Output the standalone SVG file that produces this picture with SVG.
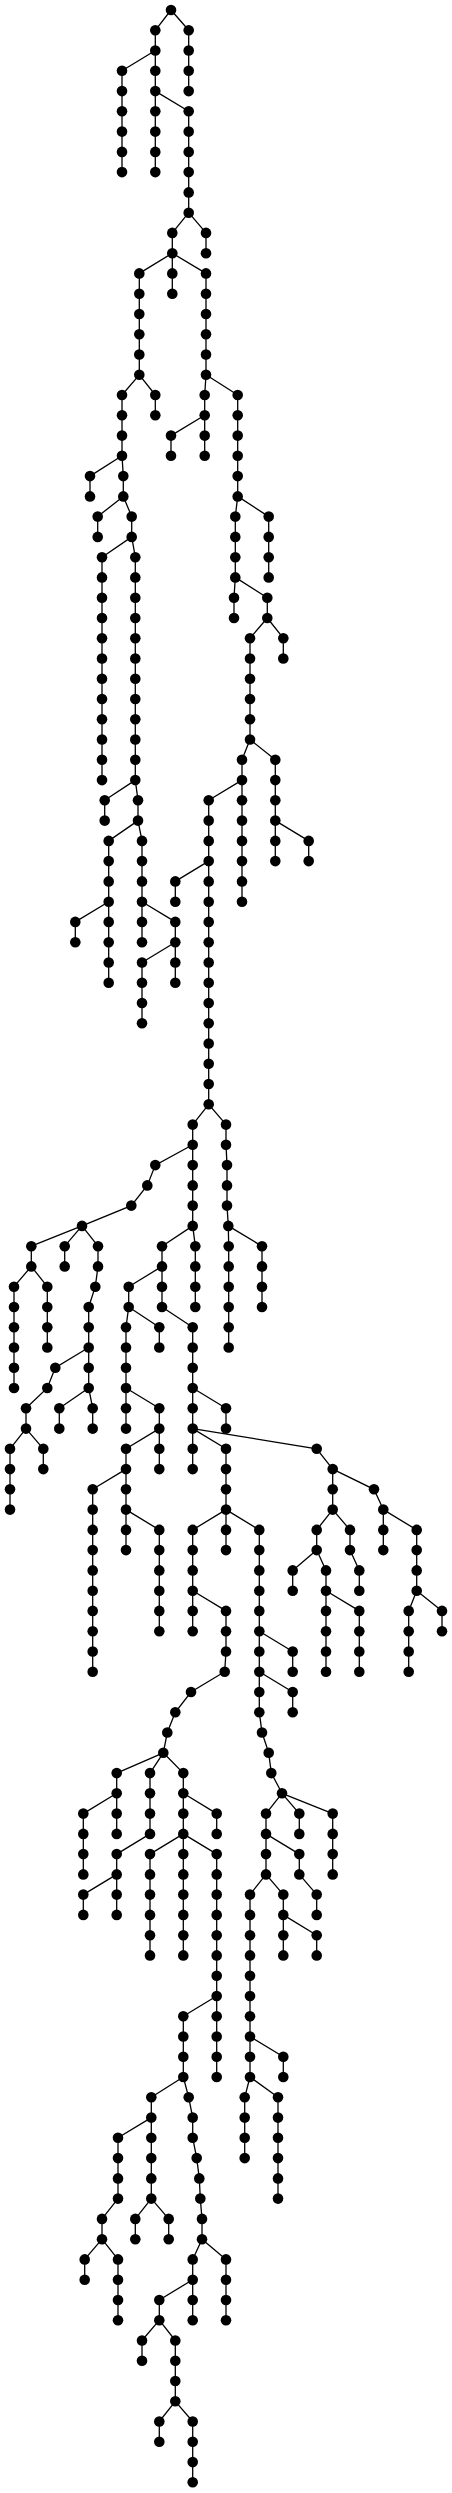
<svg xmlns="http://www.w3.org/2000/svg" width="452" height="2493" viewBox="0 0 452 2493">
<style>
.e{fill:none;stroke:#000;stroke-width:1.3}
circle{fill:#000}
</style>
<rect width="452" height="2493" fill="#fff"/>
<g id="connectors" class="e">
<path d="M155.3 30.3V172.1M188.7 30.3V91.1M122 70.8V172.1M188.7 111.3V212.7M172.3 232.9V293.7M206 232.9V253.2M139.3 273.4V374.8M206 273.4V374.8M122 395V455.8M155.3 395V415.3M204.7 395V455.8M237.7 395V496.4M171 435.6V455.8M90 476.1V496.4M123.3 476.1V496.4M97.7 516.6V536.9M131.7 516.6V536.9M235.3 516.6V577.4M268.7 516.6V577.4M102 557.2V780.1M135.3 557.2V780.1M234 597.7V618M267.3 597.7V618M250 638.2V739.5M283.3 638.2V658.5M242 759.8V901.7M275.3 759.8V861.1M104.7 800.3V820.6M138 800.3V820.6M208.7 800.3V1104.3M108.7 840.9V982.7M142 840.9V942.2M308.7 840.9V861.1M175.3 881.4V901.7M75.3 921.9V942.2M175.3 921.9V982.7M142 962.5V1023.3M192.7 1124.6V1225.9M226 1124.6V1144.8M227 1165.1V1205.6M31.3 1246.2V1266.4M64.7 1246.2V1266.4M98 1246.2V1266.4M162 1246.2V1307M195.3 1246.2V1307M228.7 1246.2V1347.5M262 1246.2V1307M14 1286.7V1388M47.3 1286.7V1347.5M128.7 1286.7V1307M88.7 1307V1388M126 1327.2V1428.6M159.3 1327.2V1347.5M192.7 1327.2V1469.1M26 1408.3V1428.6M59.3 1408.3V1428.6M92.7 1408.3V1428.6M159.3 1408.3V1469.1M226 1408.3V1428.6M10 1448.8V1509.6M43.3 1448.8V1469.1M126 1448.8V1550.1M226 1448.8V1550.1M332.7 1469.1V1509.6M92.7 1489.3V1671.7M383.3 1509.6V1550.1M159.3 1529.9V1631.2M192.7 1529.9V1631.2M259.3 1529.9V1712.3M316.7 1529.9V1550.1M350 1529.9V1550.1M416.7 1529.9V1590.7M292.7 1570.4V1590.7M326 1570.4V1671.7M359.3 1570.4V1590.7M226 1610.9V1651.5M359.3 1610.9V1671.7M408.7 1610.9V1671.7M442 1610.9V1631.2M292.7 1651.5V1671.7M292.7 1692V1712.3M116.7 1773.1V1833.9M150 1773.1V1833.9M183.3 1773.1V1955.4M83.3 1813.6V1874.4M216.7 1813.6V1833.9M266 1813.6V1874.4M299.3 1813.6V1833.9M332.7 1813.6V1874.4M116.7 1854.1V1914.9M150 1854.1V1955.4M216.7 1854.1V2077M299.3 1854.1V1874.4M83.3 1894.6V1914.9M250 1894.6V2077M283.3 1894.6V1955.4M316.7 1894.6V1914.9M316.7 1935.2V1955.4M183.3 2016.2V2077M283.3 2056.8V2077M151.3 2097.3V2198.6M244.7 2097.3V2158.1M278 2097.3V2198.6M192.7 2117.6V2137.8M118 2137.8V2198.6M102 2218.9V2239.2M135.3 2218.9V2239.2M168.7 2218.9V2239.2M202 2218.9V2239.2M84.7 2259.4V2279.7M118 2259.4V2320.2M192.7 2259.4V2320.2M226 2259.4V2320.2M159.3 2300V2320.2M142 2340.5V2360.7M175.3 2340.5V2401.3M159.3 2421.5V2441.8M192.7 2421.5V2482.3"/>
<path d="M171 10L155.3 30.3M171 10L188.7 30.3M155.3 50.5L122 70.8M155.3 91.1L188.7 111.3M188.7 212.7L172.3 232.9M188.7 212.7L206 232.9M172.3 253.2L139.3 273.4M172.3 253.2L206 273.4M139.3 374.8L122 395M139.3 374.8L155.3 395M206 374.8L204.7 395M206 374.8L237.7 395M204.7 415.3L171 435.6M122 455.8L90 476.1M122 455.8L123.3 476.1M123.3 496.4L97.7 516.6M123.3 496.4L131.7 516.6M237.7 496.4L235.3 516.6M237.7 496.4L268.7 516.6M131.7 536.9L102 557.2M131.7 536.9L135.3 557.2M235.3 577.4L234 597.7M235.3 577.4L267.3 597.7M267.3 618L250 638.2M267.3 618L283.3 638.2M250 739.5L242 759.8M250 739.5L275.3 759.8M135.3 780.1L104.7 800.3M135.3 780.1L138 800.3M242 780.1L208.7 800.3M138 820.6L108.7 840.9M138 820.6L142 840.9M275.3 820.6L308.7 840.9M208.7 861.1L175.3 881.4M108.7 901.7L75.3 921.9M142 901.7L175.3 921.9M175.3 942.2L142 962.5M208.7 1104.3L192.7 1124.6M208.7 1104.3L226 1124.6M192.7 1144.8L155.3 1165.1L147.3 1185.4L131.3 1205.6L82 1225.9M226 1144.8L227 1165.1M227 1205.6L228.3 1225.9L228.7 1246.2M228.3 1225.9L262 1246.2M82 1225.9L31.3 1246.2M82 1225.9L64.7 1246.2M82 1225.9L98 1246.2M192.7 1225.9L162 1246.2M192.7 1225.9L195.3 1246.2M31.3 1266.4L14 1286.7M31.3 1266.4L47.3 1286.7M98 1266.4L95.3 1286.7L88.7 1307M162 1266.4L128.7 1286.7M162 1307L192.7 1327.2M128.7 1307L126 1327.2M128.7 1307L159.3 1327.2M88.7 1347.5L55.3 1367.8L47.3 1388L26 1408.3M88.7 1388L59.3 1408.3M88.7 1388L92.7 1408.3M126 1388L159.3 1408.3M192.7 1388L226 1408.3M26 1428.6L10 1448.8M26 1428.6L43.3 1448.8M159.3 1428.6L126 1448.8M192.7 1428.6L226 1448.8M192.7 1428.6L316.7 1448.8L332.7 1469.1M126 1469.1L92.7 1489.3M332.7 1469.1L374 1489.3L383.3 1509.6M126 1509.6L159.3 1529.9M226 1509.6L192.7 1529.9M226 1509.6L259.3 1529.9M332.7 1509.6L316.7 1529.9M332.7 1509.6L350 1529.9M383.3 1509.6L416.7 1529.9M316.7 1550.1L292.7 1570.4M316.7 1550.1L326 1570.4M350 1550.1L359.3 1570.4M192.7 1590.7L226 1610.9M326 1590.7L359.3 1610.9M416.7 1590.7L408.7 1610.9M416.7 1590.7L442 1610.9M259.3 1631.2L292.7 1651.5M226 1651.5L224.7 1671.7L191 1692L175.3 1712.3L167.3 1732.5L163.3 1752.8M259.3 1671.7L292.7 1692M259.3 1712.3L262 1732.5L268.7 1752.8L271.3 1773.1L282 1793.3M163.3 1752.8L116.7 1773.1M163.3 1752.8L150 1773.1M163.3 1752.8L183.3 1773.1M282 1793.3L266 1813.6M282 1793.3L299.3 1813.6M282 1793.3L332.7 1813.6M116.7 1793.3L83.3 1813.6M183.3 1793.3L216.7 1813.6M150 1833.9L116.7 1854.1M183.3 1833.9L150 1854.1M183.3 1833.9L216.7 1854.1M266 1833.9L299.3 1854.1M116.7 1874.4L83.3 1894.6M266 1874.4L250 1894.6M266 1874.4L283.3 1894.6M299.3 1874.4L316.7 1894.6M283.3 1914.9L316.7 1935.2M216.7 1996L183.3 2016.2M250 2036.5L283.3 2056.8M183.3 2077L151.3 2097.3M183.3 2077L188.7 2097.3L192.7 2117.6M250 2077L244.7 2097.3M250 2077L278 2097.3M151.3 2117.6L118 2137.8M192.7 2137.8L196.7 2158.1L199.3 2178.4L200.3 2198.6L202 2218.9M118 2198.6L102 2218.9M151.3 2198.6L135.3 2218.9M151.3 2198.6L168.7 2218.9M102 2239.2L84.7 2259.4M102 2239.2L118 2259.4M202 2239.2L192.7 2259.4M202 2239.2L226 2259.4M192.7 2279.7L159.3 2300M159.3 2320.2L142 2340.5M159.3 2320.2L175.3 2340.5M175.3 2401.3L159.3 2421.5M175.3 2401.3L192.7 2421.5"/>
</g>
<g id="nodes">
<g id="n1_0"><circle cx="171" cy="10" r="5.3"/></g>
<g id="n2_1"><circle cx="155.3" cy="30.3" r="5.3"/></g>
<g id="n2_2"><circle cx="155.3" cy="50.5" r="5.3"/></g>
<g id="n2_3"><circle cx="155.3" cy="70.8" r="5.3"/></g>
<g id="n2_4"><circle cx="155.3" cy="91.1" r="5.3"/></g>
<g id="n2_5"><circle cx="155.3" cy="111.3" r="5.3"/></g>
<g id="n2_6"><circle cx="155.3" cy="131.6" r="5.3"/></g>
<g id="n2_7"><circle cx="155.3" cy="151.9" r="5.3"/></g>
<g id="n2_8"><circle cx="155.3" cy="172.1" r="5.3"/></g>
<g id="n3_1"><circle cx="188.7" cy="30.3" r="5.3"/></g>
<g id="n3_2"><circle cx="188.7" cy="50.5" r="5.3"/></g>
<g id="n3_3"><circle cx="188.7" cy="70.8" r="5.3"/></g>
<g id="n3_4"><circle cx="188.7" cy="91.1" r="5.3"/></g>
<g id="n4_3"><circle cx="122" cy="70.8" r="5.3"/></g>
<g id="n4_4"><circle cx="122" cy="91.1" r="5.3"/></g>
<g id="n4_5"><circle cx="122" cy="111.3" r="5.3"/></g>
<g id="n4_6"><circle cx="122" cy="131.6" r="5.3"/></g>
<g id="n4_7"><circle cx="122" cy="151.9" r="5.3"/></g>
<g id="n4_8"><circle cx="122" cy="172.1" r="5.3"/></g>
<g id="n5_5"><circle cx="188.7" cy="111.3" r="5.3"/></g>
<g id="n5_6"><circle cx="188.7" cy="131.6" r="5.3"/></g>
<g id="n5_7"><circle cx="188.7" cy="151.9" r="5.3"/></g>
<g id="n5_8"><circle cx="188.7" cy="172.1" r="5.3"/></g>
<g id="n5_9"><circle cx="188.7" cy="192.4" r="5.3"/></g>
<g id="n5_10"><circle cx="188.7" cy="212.7" r="5.3"/></g>
<g id="n6_11"><circle cx="172.3" cy="232.9" r="5.3"/></g>
<g id="n6_12"><circle cx="172.3" cy="253.2" r="5.3"/></g>
<g id="n6_13"><circle cx="172.3" cy="273.4" r="5.3"/></g>
<g id="n6_14"><circle cx="172.3" cy="293.7" r="5.3"/></g>
<g id="n7_11"><circle cx="206" cy="232.9" r="5.3"/></g>
<g id="n7_12"><circle cx="206" cy="253.2" r="5.3"/></g>
<g id="n8_13"><circle cx="139.3" cy="273.4" r="5.3"/></g>
<g id="n8_14"><circle cx="139.3" cy="293.7" r="5.3"/></g>
<g id="n8_15"><circle cx="139.3" cy="314" r="5.3"/></g>
<g id="n8_16"><circle cx="139.3" cy="334.2" r="5.3"/></g>
<g id="n8_17"><circle cx="139.3" cy="354.5" r="5.3"/></g>
<g id="n8_18"><circle cx="139.3" cy="374.8" r="5.3"/></g>
<g id="n9_13"><circle cx="206" cy="273.4" r="5.3"/></g>
<g id="n9_14"><circle cx="206" cy="293.7" r="5.3"/></g>
<g id="n9_15"><circle cx="206" cy="314" r="5.3"/></g>
<g id="n9_16"><circle cx="206" cy="334.2" r="5.3"/></g>
<g id="n9_17"><circle cx="206" cy="354.5" r="5.3"/></g>
<g id="n9_18"><circle cx="206" cy="374.8" r="5.3"/></g>
<g id="n10_19"><circle cx="122" cy="395" r="5.3"/></g>
<g id="n10_20"><circle cx="122" cy="415.3" r="5.3"/></g>
<g id="n10_21"><circle cx="122" cy="435.6" r="5.3"/></g>
<g id="n10_22"><circle cx="122" cy="455.8" r="5.3"/></g>
<g id="n11_19"><circle cx="155.3" cy="395" r="5.3"/></g>
<g id="n11_20"><circle cx="155.3" cy="415.3" r="5.3"/></g>
<g id="n12_19"><circle cx="204.7" cy="395" r="5.3"/></g>
<g id="n12_20"><circle cx="204.7" cy="415.3" r="5.3"/></g>
<g id="n12_21"><circle cx="204.7" cy="435.6" r="5.3"/></g>
<g id="n12_22"><circle cx="204.7" cy="455.8" r="5.3"/></g>
<g id="n13_19"><circle cx="237.7" cy="395" r="5.3"/></g>
<g id="n13_20"><circle cx="237.7" cy="415.3" r="5.3"/></g>
<g id="n13_21"><circle cx="237.7" cy="435.6" r="5.3"/></g>
<g id="n13_22"><circle cx="237.7" cy="455.8" r="5.3"/></g>
<g id="n13_23"><circle cx="237.7" cy="476.1" r="5.3"/></g>
<g id="n13_24"><circle cx="237.7" cy="496.4" r="5.3"/></g>
<g id="n14_21"><circle cx="171" cy="435.6" r="5.3"/></g>
<g id="n14_22"><circle cx="171" cy="455.8" r="5.3"/></g>
<g id="n15_23"><circle cx="90" cy="476.1" r="5.3"/></g>
<g id="n15_24"><circle cx="90" cy="496.4" r="5.3"/></g>
<g id="n16_23"><circle cx="123.3" cy="476.1" r="5.3"/></g>
<g id="n16_24"><circle cx="123.3" cy="496.4" r="5.3"/></g>
<g id="n17_25"><circle cx="97.7" cy="516.6" r="5.3"/></g>
<g id="n17_26"><circle cx="97.7" cy="536.9" r="5.3"/></g>
<g id="n18_25"><circle cx="131.7" cy="516.6" r="5.3"/></g>
<g id="n18_26"><circle cx="131.7" cy="536.9" r="5.3"/></g>
<g id="n19_25"><circle cx="235.3" cy="516.6" r="5.3"/></g>
<g id="n19_26"><circle cx="235.3" cy="536.9" r="5.3"/></g>
<g id="n19_27"><circle cx="235.3" cy="557.2" r="5.3"/></g>
<g id="n19_28"><circle cx="235.3" cy="577.4" r="5.3"/></g>
<g id="n20_25"><circle cx="268.7" cy="516.6" r="5.3"/></g>
<g id="n20_26"><circle cx="268.7" cy="536.9" r="5.3"/></g>
<g id="n20_27"><circle cx="268.7" cy="557.2" r="5.3"/></g>
<g id="n20_28"><circle cx="268.7" cy="577.4" r="5.3"/></g>
<g id="n21_27"><circle cx="102" cy="557.2" r="5.3"/></g>
<g id="n21_28"><circle cx="102" cy="577.4" r="5.3"/></g>
<g id="n21_29"><circle cx="102" cy="597.7" r="5.3"/></g>
<g id="n21_30"><circle cx="102" cy="618" r="5.3"/></g>
<g id="n21_31"><circle cx="102" cy="638.2" r="5.3"/></g>
<g id="n21_32"><circle cx="102" cy="658.5" r="5.3"/></g>
<g id="n21_33"><circle cx="102" cy="678.7" r="5.3"/></g>
<g id="n21_34"><circle cx="102" cy="699" r="5.3"/></g>
<g id="n21_35"><circle cx="102" cy="719.3" r="5.3"/></g>
<g id="n21_36"><circle cx="102" cy="739.5" r="5.3"/></g>
<g id="n21_37"><circle cx="102" cy="759.8" r="5.3"/></g>
<g id="n21_38"><circle cx="102" cy="780.1" r="5.3"/></g>
<g id="n22_27"><circle cx="135.3" cy="557.2" r="5.3"/></g>
<g id="n22_28"><circle cx="135.3" cy="577.4" r="5.3"/></g>
<g id="n22_29"><circle cx="135.3" cy="597.7" r="5.3"/></g>
<g id="n22_30"><circle cx="135.3" cy="618" r="5.3"/></g>
<g id="n22_31"><circle cx="135.3" cy="638.2" r="5.3"/></g>
<g id="n22_32"><circle cx="135.3" cy="658.5" r="5.3"/></g>
<g id="n22_33"><circle cx="135.3" cy="678.7" r="5.3"/></g>
<g id="n22_34"><circle cx="135.3" cy="699" r="5.3"/></g>
<g id="n22_35"><circle cx="135.3" cy="719.3" r="5.3"/></g>
<g id="n22_36"><circle cx="135.3" cy="739.5" r="5.3"/></g>
<g id="n22_37"><circle cx="135.3" cy="759.8" r="5.3"/></g>
<g id="n22_38"><circle cx="135.3" cy="780.1" r="5.3"/></g>
<g id="n23_29"><circle cx="234" cy="597.7" r="5.3"/></g>
<g id="n23_30"><circle cx="234" cy="618" r="5.3"/></g>
<g id="n24_29"><circle cx="267.3" cy="597.7" r="5.3"/></g>
<g id="n24_30"><circle cx="267.3" cy="618" r="5.3"/></g>
<g id="n25_31"><circle cx="250" cy="638.2" r="5.3"/></g>
<g id="n25_32"><circle cx="250" cy="658.5" r="5.3"/></g>
<g id="n25_33"><circle cx="250" cy="678.7" r="5.3"/></g>
<g id="n25_34"><circle cx="250" cy="699" r="5.3"/></g>
<g id="n25_35"><circle cx="250" cy="719.3" r="5.3"/></g>
<g id="n25_36"><circle cx="250" cy="739.5" r="5.3"/></g>
<g id="n26_31"><circle cx="283.3" cy="638.2" r="5.3"/></g>
<g id="n26_32"><circle cx="283.3" cy="658.5" r="5.3"/></g>
<g id="n27_37"><circle cx="242" cy="759.8" r="5.3"/></g>
<g id="n27_38"><circle cx="242" cy="780.1" r="5.3"/></g>
<g id="n27_39"><circle cx="242" cy="800.3" r="5.3"/></g>
<g id="n27_40"><circle cx="242" cy="820.6" r="5.3"/></g>
<g id="n27_41"><circle cx="242" cy="840.9" r="5.3"/></g>
<g id="n27_42"><circle cx="242" cy="861.1" r="5.3"/></g>
<g id="n27_43"><circle cx="242" cy="881.4" r="5.3"/></g>
<g id="n27_44"><circle cx="242" cy="901.7" r="5.3"/></g>
<g id="n28_37"><circle cx="275.3" cy="759.8" r="5.3"/></g>
<g id="n28_38"><circle cx="275.3" cy="780.1" r="5.3"/></g>
<g id="n28_39"><circle cx="275.3" cy="800.3" r="5.3"/></g>
<g id="n28_40"><circle cx="275.3" cy="820.6" r="5.3"/></g>
<g id="n28_41"><circle cx="275.3" cy="840.9" r="5.3"/></g>
<g id="n28_42"><circle cx="275.3" cy="861.1" r="5.3"/></g>
<g id="n29_39"><circle cx="104.7" cy="800.3" r="5.3"/></g>
<g id="n29_40"><circle cx="104.7" cy="820.6" r="5.3"/></g>
<g id="n30_39"><circle cx="138" cy="800.3" r="5.3"/></g>
<g id="n30_40"><circle cx="138" cy="820.6" r="5.3"/></g>
<g id="n31_39"><circle cx="208.7" cy="800.3" r="5.3"/></g>
<g id="n31_40"><circle cx="208.7" cy="820.6" r="5.3"/></g>
<g id="n31_41"><circle cx="208.7" cy="840.9" r="5.3"/></g>
<g id="n31_42"><circle cx="208.7" cy="861.1" r="5.3"/></g>
<g id="n31_43"><circle cx="208.7" cy="881.4" r="5.3"/></g>
<g id="n31_44"><circle cx="208.7" cy="901.7" r="5.3"/></g>
<g id="n31_45"><circle cx="208.7" cy="921.9" r="5.3"/></g>
<g id="n31_46"><circle cx="208.7" cy="942.2" r="5.3"/></g>
<g id="n31_47"><circle cx="208.7" cy="962.5" r="5.3"/></g>
<g id="n31_48"><circle cx="208.7" cy="982.7" r="5.3"/></g>
<g id="n31_49"><circle cx="208.7" cy="1003" r="5.3"/></g>
<g id="n31_50"><circle cx="208.7" cy="1023.3" r="5.3"/></g>
<g id="n31_51"><circle cx="208.7" cy="1043.5" r="5.3"/></g>
<g id="n31_52"><circle cx="208.7" cy="1063.8" r="5.3"/></g>
<g id="n31_53"><circle cx="208.7" cy="1084" r="5.3"/></g>
<g id="n31_54"><circle cx="208.7" cy="1104.3" r="5.3"/></g>
<g id="n32_41"><circle cx="108.7" cy="840.9" r="5.3"/></g>
<g id="n32_42"><circle cx="108.7" cy="861.1" r="5.3"/></g>
<g id="n32_43"><circle cx="108.7" cy="881.4" r="5.3"/></g>
<g id="n32_44"><circle cx="108.7" cy="901.7" r="5.3"/></g>
<g id="n32_45"><circle cx="108.7" cy="921.9" r="5.3"/></g>
<g id="n32_46"><circle cx="108.7" cy="942.2" r="5.3"/></g>
<g id="n32_47"><circle cx="108.7" cy="962.5" r="5.3"/></g>
<g id="n32_48"><circle cx="108.7" cy="982.7" r="5.3"/></g>
<g id="n33_41"><circle cx="142" cy="840.9" r="5.3"/></g>
<g id="n33_42"><circle cx="142" cy="861.1" r="5.3"/></g>
<g id="n33_43"><circle cx="142" cy="881.4" r="5.3"/></g>
<g id="n33_44"><circle cx="142" cy="901.7" r="5.3"/></g>
<g id="n33_45"><circle cx="142" cy="921.9" r="5.3"/></g>
<g id="n33_46"><circle cx="142" cy="942.2" r="5.3"/></g>
<g id="n34_41"><circle cx="308.7" cy="840.9" r="5.3"/></g>
<g id="n34_42"><circle cx="308.7" cy="861.1" r="5.3"/></g>
<g id="n35_43"><circle cx="175.3" cy="881.4" r="5.3"/></g>
<g id="n35_44"><circle cx="175.3" cy="901.7" r="5.3"/></g>
<g id="n36_45"><circle cx="75.3" cy="921.9" r="5.3"/></g>
<g id="n36_46"><circle cx="75.3" cy="942.2" r="5.3"/></g>
<g id="n37_45"><circle cx="175.3" cy="921.9" r="5.3"/></g>
<g id="n37_46"><circle cx="175.3" cy="942.2" r="5.3"/></g>
<g id="n37_47"><circle cx="175.3" cy="962.5" r="5.3"/></g>
<g id="n37_48"><circle cx="175.3" cy="982.7" r="5.3"/></g>
<g id="n38_47"><circle cx="142" cy="962.5" r="5.3"/></g>
<g id="n38_48"><circle cx="142" cy="982.7" r="5.3"/></g>
<g id="n38_49"><circle cx="142" cy="1003" r="5.3"/></g>
<g id="n38_50"><circle cx="142" cy="1023.3" r="5.3"/></g>
<g id="n39_55"><circle cx="192.7" cy="1124.6" r="5.3"/></g>
<g id="n39_56"><circle cx="192.7" cy="1144.8" r="5.3"/></g>
<g id="n39_57"><circle cx="192.7" cy="1165.1" r="5.3"/></g>
<g id="n39_58"><circle cx="192.7" cy="1185.4" r="5.3"/></g>
<g id="n39_59"><circle cx="192.7" cy="1205.6" r="5.3"/></g>
<g id="n39_60"><circle cx="192.7" cy="1225.9" r="5.3"/></g>
<g id="n40_55"><circle cx="226" cy="1124.6" r="5.3"/></g>
<g id="n40_56"><circle cx="226" cy="1144.8" r="5.3"/></g>
<g id="n41_57"><circle cx="227" cy="1165.1" r="5.3"/></g>
<g id="n41_58"><circle cx="227" cy="1185.4" r="5.3"/></g>
<g id="n41_59"><circle cx="227" cy="1205.6" r="5.3"/></g>
<g id="n42_57"><circle cx="155.3" cy="1165.1" r="5.3"/></g>
<g id="n43_58"><circle cx="147.3" cy="1185.4" r="5.3"/></g>
<g id="n44_59"><circle cx="131.3" cy="1205.6" r="5.3"/></g>
<g id="n45_60"><circle cx="82" cy="1225.9" r="5.3"/></g>
<g id="n46_60"><circle cx="228.3" cy="1225.9" r="5.3"/></g>
<g id="n47_61"><circle cx="31.3" cy="1246.2" r="5.3"/></g>
<g id="n47_62"><circle cx="31.3" cy="1266.4" r="5.3"/></g>
<g id="n48_61"><circle cx="64.7" cy="1246.2" r="5.3"/></g>
<g id="n48_62"><circle cx="64.7" cy="1266.4" r="5.3"/></g>
<g id="n49_61"><circle cx="98" cy="1246.2" r="5.3"/></g>
<g id="n49_62"><circle cx="98" cy="1266.4" r="5.3"/></g>
<g id="n50_61"><circle cx="162" cy="1246.2" r="5.3"/></g>
<g id="n50_62"><circle cx="162" cy="1266.4" r="5.3"/></g>
<g id="n50_63"><circle cx="162" cy="1286.7" r="5.3"/></g>
<g id="n50_64"><circle cx="162" cy="1307" r="5.3"/></g>
<g id="n51_61"><circle cx="195.3" cy="1246.2" r="5.3"/></g>
<g id="n51_62"><circle cx="195.3" cy="1266.4" r="5.3"/></g>
<g id="n51_63"><circle cx="195.3" cy="1286.7" r="5.3"/></g>
<g id="n51_64"><circle cx="195.3" cy="1307" r="5.3"/></g>
<g id="n52_61"><circle cx="228.7" cy="1246.2" r="5.3"/></g>
<g id="n52_62"><circle cx="228.7" cy="1266.4" r="5.3"/></g>
<g id="n52_63"><circle cx="228.7" cy="1286.7" r="5.3"/></g>
<g id="n52_64"><circle cx="228.7" cy="1307" r="5.3"/></g>
<g id="n52_65"><circle cx="228.7" cy="1327.2" r="5.3"/></g>
<g id="n52_66"><circle cx="228.7" cy="1347.5" r="5.3"/></g>
<g id="n53_61"><circle cx="262" cy="1246.2" r="5.3"/></g>
<g id="n53_62"><circle cx="262" cy="1266.4" r="5.3"/></g>
<g id="n53_63"><circle cx="262" cy="1286.7" r="5.3"/></g>
<g id="n53_64"><circle cx="262" cy="1307" r="5.3"/></g>
<g id="n54_63"><circle cx="14" cy="1286.7" r="5.3"/></g>
<g id="n54_64"><circle cx="14" cy="1307" r="5.3"/></g>
<g id="n54_65"><circle cx="14" cy="1327.2" r="5.3"/></g>
<g id="n54_66"><circle cx="14" cy="1347.5" r="5.3"/></g>
<g id="n54_67"><circle cx="14" cy="1367.8" r="5.3"/></g>
<g id="n54_68"><circle cx="14" cy="1388" r="5.3"/></g>
<g id="n55_63"><circle cx="47.3" cy="1286.7" r="5.3"/></g>
<g id="n55_64"><circle cx="47.3" cy="1307" r="5.3"/></g>
<g id="n55_65"><circle cx="47.3" cy="1327.2" r="5.3"/></g>
<g id="n55_66"><circle cx="47.3" cy="1347.5" r="5.3"/></g>
<g id="n56_63"><circle cx="95.3" cy="1286.7" r="5.3"/></g>
<g id="n57_63"><circle cx="128.7" cy="1286.7" r="5.3"/></g>
<g id="n57_64"><circle cx="128.7" cy="1307" r="5.3"/></g>
<g id="n58_64"><circle cx="88.7" cy="1307" r="5.3"/></g>
<g id="n58_65"><circle cx="88.7" cy="1327.2" r="5.3"/></g>
<g id="n58_66"><circle cx="88.7" cy="1347.5" r="5.3"/></g>
<g id="n58_67"><circle cx="88.7" cy="1367.8" r="5.3"/></g>
<g id="n58_68"><circle cx="88.7" cy="1388" r="5.3"/></g>
<g id="n59_65"><circle cx="126" cy="1327.2" r="5.3"/></g>
<g id="n59_66"><circle cx="126" cy="1347.5" r="5.3"/></g>
<g id="n59_67"><circle cx="126" cy="1367.8" r="5.3"/></g>
<g id="n59_68"><circle cx="126" cy="1388" r="5.3"/></g>
<g id="n59_69"><circle cx="126" cy="1408.3" r="5.3"/></g>
<g id="n59_70"><circle cx="126" cy="1428.6" r="5.3"/></g>
<g id="n60_65"><circle cx="159.3" cy="1327.2" r="5.3"/></g>
<g id="n60_66"><circle cx="159.3" cy="1347.5" r="5.3"/></g>
<g id="n61_65"><circle cx="192.7" cy="1327.2" r="5.3"/></g>
<g id="n61_66"><circle cx="192.7" cy="1347.5" r="5.3"/></g>
<g id="n61_67"><circle cx="192.7" cy="1367.8" r="5.3"/></g>
<g id="n61_68"><circle cx="192.7" cy="1388" r="5.3"/></g>
<g id="n61_69"><circle cx="192.7" cy="1408.3" r="5.3"/></g>
<g id="n61_70"><circle cx="192.7" cy="1428.6" r="5.3"/></g>
<g id="n61_71"><circle cx="192.7" cy="1448.8" r="5.3"/></g>
<g id="n61_72"><circle cx="192.7" cy="1469.1" r="5.3"/></g>
<g id="n62_67"><circle cx="55.3" cy="1367.8" r="5.3"/></g>
<g id="n63_68"><circle cx="47.3" cy="1388" r="5.3"/></g>
<g id="n64_69"><circle cx="26" cy="1408.3" r="5.3"/></g>
<g id="n64_70"><circle cx="26" cy="1428.6" r="5.3"/></g>
<g id="n65_69"><circle cx="59.3" cy="1408.3" r="5.3"/></g>
<g id="n65_70"><circle cx="59.3" cy="1428.6" r="5.3"/></g>
<g id="n66_69"><circle cx="92.7" cy="1408.3" r="5.3"/></g>
<g id="n66_70"><circle cx="92.7" cy="1428.6" r="5.3"/></g>
<g id="n67_69"><circle cx="159.3" cy="1408.3" r="5.3"/></g>
<g id="n67_70"><circle cx="159.3" cy="1428.6" r="5.3"/></g>
<g id="n67_71"><circle cx="159.3" cy="1448.8" r="5.3"/></g>
<g id="n67_72"><circle cx="159.3" cy="1469.1" r="5.3"/></g>
<g id="n68_69"><circle cx="226" cy="1408.3" r="5.3"/></g>
<g id="n68_70"><circle cx="226" cy="1428.6" r="5.3"/></g>
<g id="n69_71"><circle cx="10" cy="1448.8" r="5.3"/></g>
<g id="n69_72"><circle cx="10" cy="1469.1" r="5.3"/></g>
<g id="n69_73"><circle cx="10" cy="1489.3" r="5.3"/></g>
<g id="n69_74"><circle cx="10" cy="1509.6" r="5.3"/></g>
<g id="n70_71"><circle cx="43.3" cy="1448.8" r="5.3"/></g>
<g id="n70_72"><circle cx="43.3" cy="1469.1" r="5.3"/></g>
<g id="n71_71"><circle cx="126" cy="1448.8" r="5.3"/></g>
<g id="n71_72"><circle cx="126" cy="1469.1" r="5.3"/></g>
<g id="n71_73"><circle cx="126" cy="1489.3" r="5.3"/></g>
<g id="n71_74"><circle cx="126" cy="1509.6" r="5.3"/></g>
<g id="n71_75"><circle cx="126" cy="1529.9" r="5.3"/></g>
<g id="n71_76"><circle cx="126" cy="1550.1" r="5.3"/></g>
<g id="n72_71"><circle cx="226" cy="1448.8" r="5.3"/></g>
<g id="n72_72"><circle cx="226" cy="1469.1" r="5.3"/></g>
<g id="n72_73"><circle cx="226" cy="1489.3" r="5.3"/></g>
<g id="n72_74"><circle cx="226" cy="1509.6" r="5.3"/></g>
<g id="n72_75"><circle cx="226" cy="1529.9" r="5.3"/></g>
<g id="n72_76"><circle cx="226" cy="1550.1" r="5.3"/></g>
<g id="n73_71"><circle cx="316.7" cy="1448.8" r="5.3"/></g>
<g id="n74_72"><circle cx="332.7" cy="1469.1" r="5.3"/></g>
<g id="n74_73"><circle cx="332.7" cy="1489.3" r="5.3"/></g>
<g id="n74_74"><circle cx="332.7" cy="1509.6" r="5.3"/></g>
<g id="n75_73"><circle cx="92.7" cy="1489.3" r="5.3"/></g>
<g id="n75_74"><circle cx="92.7" cy="1509.6" r="5.3"/></g>
<g id="n75_75"><circle cx="92.7" cy="1529.9" r="5.3"/></g>
<g id="n75_76"><circle cx="92.7" cy="1550.1" r="5.3"/></g>
<g id="n75_77"><circle cx="92.7" cy="1570.4" r="5.3"/></g>
<g id="n75_78"><circle cx="92.7" cy="1590.7" r="5.3"/></g>
<g id="n75_79"><circle cx="92.7" cy="1610.9" r="5.3"/></g>
<g id="n75_80"><circle cx="92.7" cy="1631.2" r="5.3"/></g>
<g id="n75_81"><circle cx="92.7" cy="1651.5" r="5.3"/></g>
<g id="n75_82"><circle cx="92.7" cy="1671.7" r="5.3"/></g>
<g id="n76_73"><circle cx="374" cy="1489.3" r="5.3"/></g>
<g id="n77_74"><circle cx="383.3" cy="1509.6" r="5.3"/></g>
<g id="n77_75"><circle cx="383.3" cy="1529.9" r="5.3"/></g>
<g id="n77_76"><circle cx="383.3" cy="1550.1" r="5.3"/></g>
<g id="n78_75"><circle cx="159.3" cy="1529.9" r="5.3"/></g>
<g id="n78_76"><circle cx="159.3" cy="1550.1" r="5.3"/></g>
<g id="n78_77"><circle cx="159.3" cy="1570.4" r="5.3"/></g>
<g id="n78_78"><circle cx="159.3" cy="1590.7" r="5.3"/></g>
<g id="n78_79"><circle cx="159.3" cy="1610.9" r="5.3"/></g>
<g id="n78_80"><circle cx="159.3" cy="1631.2" r="5.3"/></g>
<g id="n79_75"><circle cx="192.7" cy="1529.9" r="5.3"/></g>
<g id="n79_76"><circle cx="192.7" cy="1550.1" r="5.3"/></g>
<g id="n79_77"><circle cx="192.7" cy="1570.4" r="5.3"/></g>
<g id="n79_78"><circle cx="192.7" cy="1590.7" r="5.3"/></g>
<g id="n79_79"><circle cx="192.7" cy="1610.9" r="5.3"/></g>
<g id="n79_80"><circle cx="192.7" cy="1631.2" r="5.3"/></g>
<g id="n80_75"><circle cx="259.3" cy="1529.9" r="5.3"/></g>
<g id="n80_76"><circle cx="259.3" cy="1550.1" r="5.3"/></g>
<g id="n80_77"><circle cx="259.3" cy="1570.4" r="5.3"/></g>
<g id="n80_78"><circle cx="259.3" cy="1590.7" r="5.3"/></g>
<g id="n80_79"><circle cx="259.3" cy="1610.9" r="5.3"/></g>
<g id="n80_80"><circle cx="259.3" cy="1631.2" r="5.3"/></g>
<g id="n80_81"><circle cx="259.3" cy="1651.5" r="5.3"/></g>
<g id="n80_82"><circle cx="259.3" cy="1671.7" r="5.3"/></g>
<g id="n80_83"><circle cx="259.3" cy="1692" r="5.3"/></g>
<g id="n80_84"><circle cx="259.3" cy="1712.3" r="5.3"/></g>
<g id="n81_75"><circle cx="316.7" cy="1529.9" r="5.3"/></g>
<g id="n81_76"><circle cx="316.7" cy="1550.1" r="5.3"/></g>
<g id="n82_75"><circle cx="350" cy="1529.9" r="5.3"/></g>
<g id="n82_76"><circle cx="350" cy="1550.1" r="5.3"/></g>
<g id="n83_75"><circle cx="416.7" cy="1529.9" r="5.3"/></g>
<g id="n83_76"><circle cx="416.7" cy="1550.1" r="5.3"/></g>
<g id="n83_77"><circle cx="416.7" cy="1570.4" r="5.3"/></g>
<g id="n83_78"><circle cx="416.7" cy="1590.7" r="5.3"/></g>
<g id="n84_77"><circle cx="292.7" cy="1570.4" r="5.3"/></g>
<g id="n84_78"><circle cx="292.7" cy="1590.7" r="5.3"/></g>
<g id="n85_77"><circle cx="326" cy="1570.4" r="5.3"/></g>
<g id="n85_78"><circle cx="326" cy="1590.7" r="5.3"/></g>
<g id="n85_79"><circle cx="326" cy="1610.9" r="5.3"/></g>
<g id="n85_80"><circle cx="326" cy="1631.2" r="5.3"/></g>
<g id="n85_81"><circle cx="326" cy="1651.5" r="5.3"/></g>
<g id="n85_82"><circle cx="326" cy="1671.7" r="5.3"/></g>
<g id="n86_77"><circle cx="359.3" cy="1570.4" r="5.3"/></g>
<g id="n86_78"><circle cx="359.3" cy="1590.7" r="5.3"/></g>
<g id="n87_79"><circle cx="226" cy="1610.9" r="5.3"/></g>
<g id="n87_80"><circle cx="226" cy="1631.2" r="5.3"/></g>
<g id="n87_81"><circle cx="226" cy="1651.5" r="5.3"/></g>
<g id="n88_79"><circle cx="359.3" cy="1610.9" r="5.3"/></g>
<g id="n88_80"><circle cx="359.3" cy="1631.2" r="5.3"/></g>
<g id="n88_81"><circle cx="359.3" cy="1651.5" r="5.3"/></g>
<g id="n88_82"><circle cx="359.3" cy="1671.7" r="5.3"/></g>
<g id="n89_79"><circle cx="408.7" cy="1610.9" r="5.3"/></g>
<g id="n89_80"><circle cx="408.7" cy="1631.2" r="5.3"/></g>
<g id="n89_81"><circle cx="408.7" cy="1651.5" r="5.3"/></g>
<g id="n89_82"><circle cx="408.7" cy="1671.7" r="5.3"/></g>
<g id="n90_79"><circle cx="442" cy="1610.9" r="5.3"/></g>
<g id="n90_80"><circle cx="442" cy="1631.2" r="5.3"/></g>
<g id="n91_81"><circle cx="292.7" cy="1651.5" r="5.3"/></g>
<g id="n91_82"><circle cx="292.7" cy="1671.7" r="5.3"/></g>
<g id="n92_82"><circle cx="224.7" cy="1671.7" r="5.3"/></g>
<g id="n93_83"><circle cx="191" cy="1692" r="5.3"/></g>
<g id="n94_83"><circle cx="292.7" cy="1692" r="5.3"/></g>
<g id="n94_84"><circle cx="292.7" cy="1712.3" r="5.3"/></g>
<g id="n95_84"><circle cx="175.3" cy="1712.3" r="5.3"/></g>
<g id="n96_85"><circle cx="167.3" cy="1732.5" r="5.3"/></g>
<g id="n97_85"><circle cx="262" cy="1732.5" r="5.3"/></g>
<g id="n98_86"><circle cx="163.3" cy="1752.8" r="5.3"/></g>
<g id="n99_86"><circle cx="268.7" cy="1752.8" r="5.3"/></g>
<g id="n100_87"><circle cx="116.7" cy="1773.1" r="5.3"/></g>
<g id="n100_88"><circle cx="116.7" cy="1793.3" r="5.3"/></g>
<g id="n100_89"><circle cx="116.7" cy="1813.6" r="5.3"/></g>
<g id="n100_90"><circle cx="116.7" cy="1833.9" r="5.3"/></g>
<g id="n101_87"><circle cx="150" cy="1773.1" r="5.3"/></g>
<g id="n101_88"><circle cx="150" cy="1793.3" r="5.3"/></g>
<g id="n101_89"><circle cx="150" cy="1813.6" r="5.3"/></g>
<g id="n101_90"><circle cx="150" cy="1833.9" r="5.3"/></g>
<g id="n102_87"><circle cx="183.3" cy="1773.1" r="5.3"/></g>
<g id="n102_88"><circle cx="183.3" cy="1793.3" r="5.3"/></g>
<g id="n102_89"><circle cx="183.3" cy="1813.6" r="5.3"/></g>
<g id="n102_90"><circle cx="183.3" cy="1833.9" r="5.3"/></g>
<g id="n102_91"><circle cx="183.3" cy="1854.1" r="5.3"/></g>
<g id="n102_92"><circle cx="183.3" cy="1874.4" r="5.3"/></g>
<g id="n102_93"><circle cx="183.3" cy="1894.6" r="5.3"/></g>
<g id="n102_94"><circle cx="183.3" cy="1914.9" r="5.3"/></g>
<g id="n102_95"><circle cx="183.3" cy="1935.2" r="5.3"/></g>
<g id="n102_96"><circle cx="183.3" cy="1955.4" r="5.3"/></g>
<g id="n103_87"><circle cx="271.3" cy="1773.1" r="5.3"/></g>
<g id="n104_88"><circle cx="282" cy="1793.3" r="5.3"/></g>
<g id="n105_89"><circle cx="83.3" cy="1813.6" r="5.3"/></g>
<g id="n105_90"><circle cx="83.3" cy="1833.9" r="5.3"/></g>
<g id="n105_91"><circle cx="83.3" cy="1854.1" r="5.3"/></g>
<g id="n105_92"><circle cx="83.3" cy="1874.4" r="5.3"/></g>
<g id="n106_89"><circle cx="216.7" cy="1813.6" r="5.3"/></g>
<g id="n106_90"><circle cx="216.7" cy="1833.9" r="5.3"/></g>
<g id="n107_89"><circle cx="266" cy="1813.6" r="5.3"/></g>
<g id="n107_90"><circle cx="266" cy="1833.9" r="5.3"/></g>
<g id="n107_91"><circle cx="266" cy="1854.1" r="5.3"/></g>
<g id="n107_92"><circle cx="266" cy="1874.4" r="5.3"/></g>
<g id="n108_89"><circle cx="299.3" cy="1813.6" r="5.3"/></g>
<g id="n108_90"><circle cx="299.3" cy="1833.9" r="5.3"/></g>
<g id="n109_89"><circle cx="332.7" cy="1813.6" r="5.3"/></g>
<g id="n109_90"><circle cx="332.7" cy="1833.9" r="5.3"/></g>
<g id="n109_91"><circle cx="332.7" cy="1854.1" r="5.3"/></g>
<g id="n109_92"><circle cx="332.7" cy="1874.4" r="5.3"/></g>
<g id="n110_91"><circle cx="116.7" cy="1854.1" r="5.3"/></g>
<g id="n110_92"><circle cx="116.7" cy="1874.4" r="5.3"/></g>
<g id="n110_93"><circle cx="116.7" cy="1894.6" r="5.3"/></g>
<g id="n110_94"><circle cx="116.7" cy="1914.9" r="5.3"/></g>
<g id="n111_91"><circle cx="150" cy="1854.1" r="5.3"/></g>
<g id="n111_92"><circle cx="150" cy="1874.4" r="5.3"/></g>
<g id="n111_93"><circle cx="150" cy="1894.6" r="5.3"/></g>
<g id="n111_94"><circle cx="150" cy="1914.9" r="5.3"/></g>
<g id="n111_95"><circle cx="150" cy="1935.2" r="5.3"/></g>
<g id="n111_96"><circle cx="150" cy="1955.4" r="5.3"/></g>
<g id="n112_91"><circle cx="216.7" cy="1854.1" r="5.3"/></g>
<g id="n112_92"><circle cx="216.7" cy="1874.4" r="5.3"/></g>
<g id="n112_93"><circle cx="216.7" cy="1894.6" r="5.3"/></g>
<g id="n112_94"><circle cx="216.7" cy="1914.9" r="5.3"/></g>
<g id="n112_95"><circle cx="216.7" cy="1935.2" r="5.3"/></g>
<g id="n112_96"><circle cx="216.7" cy="1955.4" r="5.3"/></g>
<g id="n112_97"><circle cx="216.7" cy="1975.7" r="5.3"/></g>
<g id="n112_98"><circle cx="216.7" cy="1996" r="5.3"/></g>
<g id="n112_99"><circle cx="216.7" cy="2016.2" r="5.3"/></g>
<g id="n112_100"><circle cx="216.7" cy="2036.5" r="5.3"/></g>
<g id="n112_101"><circle cx="216.7" cy="2056.8" r="5.3"/></g>
<g id="n112_102"><circle cx="216.7" cy="2077" r="5.3"/></g>
<g id="n113_91"><circle cx="299.3" cy="1854.1" r="5.3"/></g>
<g id="n113_92"><circle cx="299.3" cy="1874.4" r="5.3"/></g>
<g id="n114_93"><circle cx="83.3" cy="1894.6" r="5.3"/></g>
<g id="n114_94"><circle cx="83.3" cy="1914.9" r="5.3"/></g>
<g id="n115_93"><circle cx="250" cy="1894.6" r="5.3"/></g>
<g id="n115_94"><circle cx="250" cy="1914.9" r="5.3"/></g>
<g id="n115_95"><circle cx="250" cy="1935.2" r="5.3"/></g>
<g id="n115_96"><circle cx="250" cy="1955.4" r="5.3"/></g>
<g id="n115_97"><circle cx="250" cy="1975.7" r="5.3"/></g>
<g id="n115_98"><circle cx="250" cy="1996" r="5.3"/></g>
<g id="n115_99"><circle cx="250" cy="2016.2" r="5.3"/></g>
<g id="n115_100"><circle cx="250" cy="2036.5" r="5.3"/></g>
<g id="n115_101"><circle cx="250" cy="2056.8" r="5.3"/></g>
<g id="n115_102"><circle cx="250" cy="2077" r="5.3"/></g>
<g id="n116_93"><circle cx="283.3" cy="1894.6" r="5.3"/></g>
<g id="n116_94"><circle cx="283.3" cy="1914.9" r="5.3"/></g>
<g id="n116_95"><circle cx="283.3" cy="1935.2" r="5.3"/></g>
<g id="n116_96"><circle cx="283.3" cy="1955.4" r="5.3"/></g>
<g id="n117_93"><circle cx="316.7" cy="1894.6" r="5.3"/></g>
<g id="n117_94"><circle cx="316.7" cy="1914.9" r="5.3"/></g>
<g id="n118_95"><circle cx="316.7" cy="1935.2" r="5.3"/></g>
<g id="n118_96"><circle cx="316.7" cy="1955.4" r="5.3"/></g>
<g id="n119_99"><circle cx="183.3" cy="2016.2" r="5.3"/></g>
<g id="n119_100"><circle cx="183.3" cy="2036.5" r="5.3"/></g>
<g id="n119_101"><circle cx="183.3" cy="2056.8" r="5.3"/></g>
<g id="n119_102"><circle cx="183.3" cy="2077" r="5.3"/></g>
<g id="n120_101"><circle cx="283.3" cy="2056.8" r="5.3"/></g>
<g id="n120_102"><circle cx="283.3" cy="2077" r="5.3"/></g>
<g id="n121_103"><circle cx="151.3" cy="2097.3" r="5.3"/></g>
<g id="n121_104"><circle cx="151.3" cy="2117.6" r="5.3"/></g>
<g id="n121_105"><circle cx="151.3" cy="2137.8" r="5.3"/></g>
<g id="n121_106"><circle cx="151.3" cy="2158.1" r="5.3"/></g>
<g id="n121_107"><circle cx="151.3" cy="2178.4" r="5.3"/></g>
<g id="n121_108"><circle cx="151.3" cy="2198.6" r="5.3"/></g>
<g id="n122_103"><circle cx="188.7" cy="2097.3" r="5.3"/></g>
<g id="n123_103"><circle cx="244.7" cy="2097.3" r="5.3"/></g>
<g id="n123_104"><circle cx="244.7" cy="2117.6" r="5.3"/></g>
<g id="n123_105"><circle cx="244.7" cy="2137.8" r="5.3"/></g>
<g id="n123_106"><circle cx="244.7" cy="2158.1" r="5.3"/></g>
<g id="n124_103"><circle cx="278" cy="2097.3" r="5.3"/></g>
<g id="n124_104"><circle cx="278" cy="2117.6" r="5.3"/></g>
<g id="n124_105"><circle cx="278" cy="2137.8" r="5.3"/></g>
<g id="n124_106"><circle cx="278" cy="2158.1" r="5.3"/></g>
<g id="n124_107"><circle cx="278" cy="2178.4" r="5.3"/></g>
<g id="n124_108"><circle cx="278" cy="2198.6" r="5.3"/></g>
<g id="n125_104"><circle cx="192.7" cy="2117.6" r="5.3"/></g>
<g id="n125_105"><circle cx="192.7" cy="2137.8" r="5.3"/></g>
<g id="n126_105"><circle cx="118" cy="2137.8" r="5.3"/></g>
<g id="n126_106"><circle cx="118" cy="2158.1" r="5.3"/></g>
<g id="n126_107"><circle cx="118" cy="2178.4" r="5.3"/></g>
<g id="n126_108"><circle cx="118" cy="2198.6" r="5.3"/></g>
<g id="n127_106"><circle cx="196.7" cy="2158.1" r="5.3"/></g>
<g id="n128_107"><circle cx="199.3" cy="2178.4" r="5.3"/></g>
<g id="n129_108"><circle cx="200.3" cy="2198.6" r="5.3"/></g>
<g id="n130_109"><circle cx="102" cy="2218.9" r="5.3"/></g>
<g id="n130_110"><circle cx="102" cy="2239.2" r="5.3"/></g>
<g id="n131_109"><circle cx="135.3" cy="2218.9" r="5.3"/></g>
<g id="n131_110"><circle cx="135.3" cy="2239.2" r="5.3"/></g>
<g id="n132_109"><circle cx="168.7" cy="2218.9" r="5.3"/></g>
<g id="n132_110"><circle cx="168.7" cy="2239.2" r="5.3"/></g>
<g id="n133_109"><circle cx="202" cy="2218.9" r="5.3"/></g>
<g id="n133_110"><circle cx="202" cy="2239.2" r="5.3"/></g>
<g id="n134_111"><circle cx="84.7" cy="2259.4" r="5.3"/></g>
<g id="n134_112"><circle cx="84.7" cy="2279.7" r="5.3"/></g>
<g id="n135_111"><circle cx="118" cy="2259.4" r="5.3"/></g>
<g id="n135_112"><circle cx="118" cy="2279.7" r="5.3"/></g>
<g id="n135_113"><circle cx="118" cy="2300" r="5.3"/></g>
<g id="n135_114"><circle cx="118" cy="2320.2" r="5.3"/></g>
<g id="n136_111"><circle cx="192.7" cy="2259.4" r="5.3"/></g>
<g id="n136_112"><circle cx="192.7" cy="2279.7" r="5.3"/></g>
<g id="n136_113"><circle cx="192.7" cy="2300" r="5.3"/></g>
<g id="n136_114"><circle cx="192.7" cy="2320.2" r="5.3"/></g>
<g id="n137_111"><circle cx="226" cy="2259.4" r="5.3"/></g>
<g id="n137_112"><circle cx="226" cy="2279.7" r="5.3"/></g>
<g id="n137_113"><circle cx="226" cy="2300" r="5.3"/></g>
<g id="n137_114"><circle cx="226" cy="2320.2" r="5.3"/></g>
<g id="n138_113"><circle cx="159.3" cy="2300" r="5.3"/></g>
<g id="n138_114"><circle cx="159.3" cy="2320.2" r="5.3"/></g>
<g id="n139_115"><circle cx="142" cy="2340.5" r="5.3"/></g>
<g id="n139_116"><circle cx="142" cy="2360.7" r="5.3"/></g>
<g id="n140_115"><circle cx="175.3" cy="2340.5" r="5.3"/></g>
<g id="n140_116"><circle cx="175.3" cy="2360.7" r="5.3"/></g>
<g id="n140_117"><circle cx="175.3" cy="2381" r="5.3"/></g>
<g id="n140_118"><circle cx="175.3" cy="2401.3" r="5.3"/></g>
<g id="n141_119"><circle cx="159.3" cy="2421.5" r="5.3"/></g>
<g id="n141_120"><circle cx="159.3" cy="2441.8" r="5.3"/></g>
<g id="n142_119"><circle cx="192.7" cy="2421.5" r="5.3"/></g>
<g id="n142_120"><circle cx="192.7" cy="2441.8" r="5.3"/></g>
<g id="n142_121"><circle cx="192.7" cy="2462.1" r="5.3"/></g>
<g id="n142_122"><circle cx="192.7" cy="2482.3" r="5.3"/></g>
</g>
</svg>
